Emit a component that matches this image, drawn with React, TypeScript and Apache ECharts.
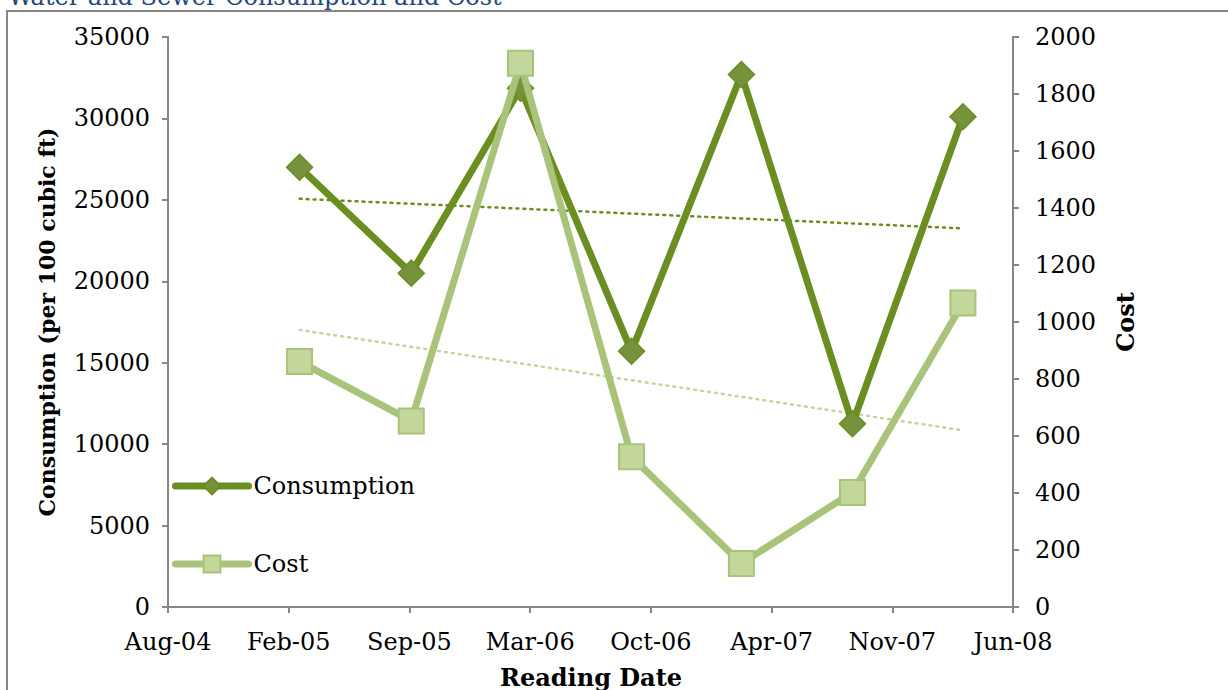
import React, { useEffect, useRef } from "react";
import * as echarts from "echarts";

// ---- data ----
const readingDates = [
  "2005-03-07",
  "2005-09-08",
  "2006-03-08",
  "2006-09-08",
  "2007-03-09",
  "2007-09-09",
  "2008-03-10",
];
const consumption = [27000, 20500, 31850, 15700, 32700, 11250, 30100];
const cost = [861, 653, 1908, 527, 153, 402, 1067];

// date axis in spreadsheet day serials (Aug-04 .. Jun-08, every 200 days)
const xAxisMin = 38200;
const xAxisMax = 39600;
const xAxisStep = 200;
const leftMax = 35000;
const leftStep = 5000;
const rightMax = 2000;
const rightStep = 200;

const titleText = "Water and Sewer Consumption and Cost";
const xName = "Reading Date";
const leftName = "Consumption (per 100 cubic ft)";
const rightName = "Cost";
const monthNames = ["Jan", "Feb", "Mar", "Apr", "May", "Jun", "Jul", "Aug", "Sep", "Oct", "Nov", "Dec"];

const EPOCH = Date.UTC(1899, 11, 30);
const DAY = 86400000;
const toSerial = (s: string) => {
  const [y, m, d] = s.split("-").map(Number);
  return Math.round((Date.UTC(y, m - 1, d) - EPOCH) / DAY);
};
const fmtSerial = (v: number) => {
  const d = new Date(EPOCH + v * DAY);
  return monthNames[d.getUTCMonth()] + "-" + String(d.getUTCFullYear() % 100).padStart(2, "0");
};

const trend = (xs: number[], ys: number[]) => {
  const n = xs.length;
  const mx = xs.reduce((a, b) => a + b, 0) / n;
  const my = ys.reduce((a, b) => a + b, 0) / n;
  let sxy = 0;
  let sxx = 0;
  for (let i = 0; i < n; i++) {
    sxy += (xs[i] - mx) * (ys[i] - my);
    sxx += (xs[i] - mx) * (xs[i] - mx);
  }
  const b = sxy / sxx;
  const a = my - b * mx;
  const x0 = xs[0];
  const x1 = xs[n - 1];
  return [
    [x0, a + b * x0],
    [x1, a + b * x1],
  ];
};

const FONT = "DejaVu Serif";
const AXIS_GRAY = "#868686";
const DARK = "#6B8E23";
const DARK_FILL = "#76923C";
const LIGHT = "#A9C47A";
const LIGHT_FILL = "#C3D69B";

export default function App() {
  const ref = useRef<HTMLDivElement>(null);
  useEffect(() => {
    if (!ref.current) return;
    const chart = echarts.init(ref.current, undefined, { renderer: "svg" });
    const xs = readingDates.map(toSerial);
    const consData = xs.map((x, i) => [x, consumption[i]]);
    const costData = xs.map((x, i) => [x, cost[i]]);

    const axisLine = { show: true, onZero: false, lineStyle: { color: AXIS_GRAY, width: 2 } };
    const axisTick = { show: true, inside: false, length: 6, lineStyle: { color: AXIS_GRAY, width: 2 } };
    const labelBase = { color: "#000", fontFamily: FONT, fontSize: 24 };
    const plain = (v: number) => String(v);

    chart.setOption({
      animation: false,
      backgroundColor: "#fff",
      grid: { left: 168, right: 215, top: 37, bottom: 83, containLabel: false },
      legend: {
        data: ["Consumption", "Cost"],
        orient: "vertical",
        left: 172,
        top: 474,
        padding: 0,
        itemWidth: 73,
        itemHeight: 21,
        itemGap: 54,
        lineStyle: { width: 7, cap: "round" },
        textStyle: { ...labelBase, padding: [0, 0, 0, 0] },
      },
      xAxis: {
        type: "value",
        min: xAxisMin,
        max: xAxisMax,
        interval: xAxisStep,
        axisLine,
        axisTick,
        splitLine: { show: false },
        axisLabel: { ...labelBase, margin: 23, formatter: (v: number) => fmtSerial(v) },
      },
      yAxis: [
        {
          type: "value",
          min: 0,
          max: leftMax,
          interval: leftStep,
          position: "left",
          axisLine,
          axisTick,
          splitLine: { show: false },
          axisLabel: { ...labelBase, margin: 18, formatter: plain },
        },
        {
          type: "value",
          min: 0,
          max: rightMax,
          interval: rightStep,
          position: "right",
          axisLine,
          axisTick,
          splitLine: { show: false },
          axisLabel: { ...labelBase, margin: 22, formatter: plain },
        },
      ],
      series: [
        {
          name: "Consumption trend",
          type: "line",
          yAxisIndex: 0,
          data: trend(xs, consumption),
          showSymbol: false,
          silent: true,
          z: 1,
          lineStyle: { color: DARK, width: 2.5, type: [2, 5], cap: "round" },
        },
        {
          name: "Cost trend",
          type: "line",
          yAxisIndex: 1,
          data: trend(xs, cost),
          showSymbol: false,
          silent: true,
          z: 1,
          lineStyle: { color: LIGHT_FILL, width: 2.5, type: [2, 5], cap: "round" },
        },
        {
          name: "Consumption",
          type: "line",
          yAxisIndex: 0,
          data: consData,
          symbol: "diamond",
          symbolSize: 26,
          z: 3,
          lineStyle: { color: DARK, width: 7, cap: "round", join: "round" },
          itemStyle: { color: DARK_FILL, borderColor: DARK, borderWidth: 1.5 },
        },
        {
          name: "Cost",
          type: "line",
          yAxisIndex: 1,
          data: costData,
          symbol: "rect",
          symbolSize: 25,
          z: 4,
          lineStyle: { color: LIGHT, width: 7, cap: "round", join: "round" },
          itemStyle: { color: LIGHT_FILL, borderColor: LIGHT, borderWidth: 2 },
        },
      ],
      graphic: [
        {
          type: "rect",
          z: -10,
          silent: true,
          shape: { x: 7, y: 11, width: 1400, height: 900 },
          style: { fill: "none", stroke: AXIS_GRAY, lineWidth: 2 },
        },
        {
          type: "text",
          x: 8,
          y: -15,
          style: { text: titleText, fill: "#1F497D", font: `24px "${FONT}"`, align: "left", verticalAlign: "top" },
        },
        {
          type: "text",
          x: 591,
          y: 677,
          style: { text: xName, fill: "#000", font: `bold 24px "${FONT}"`, align: "center", verticalAlign: "middle" },
        },
        {
          type: "text",
          x: 47,
          y: 322,
          rotation: Math.PI / 2,
          style: { text: leftName, fill: "#000", font: `bold 22px "${FONT}"`, align: "center", verticalAlign: "middle" },
        },
        {
          type: "text",
          x: 1125,
          y: 322,
          rotation: Math.PI / 2,
          style: { text: rightName, fill: "#000", font: `bold 24px "${FONT}"`, align: "center", verticalAlign: "middle" },
        },
      ],
    });
    return () => chart.dispose();
  }, []);
  return (
    <div
      ref={ref}
      style={{ position: "fixed", left: 0, top: 0, width: 1228, height: 690, background: "#fff" }}
    />
  );
}
